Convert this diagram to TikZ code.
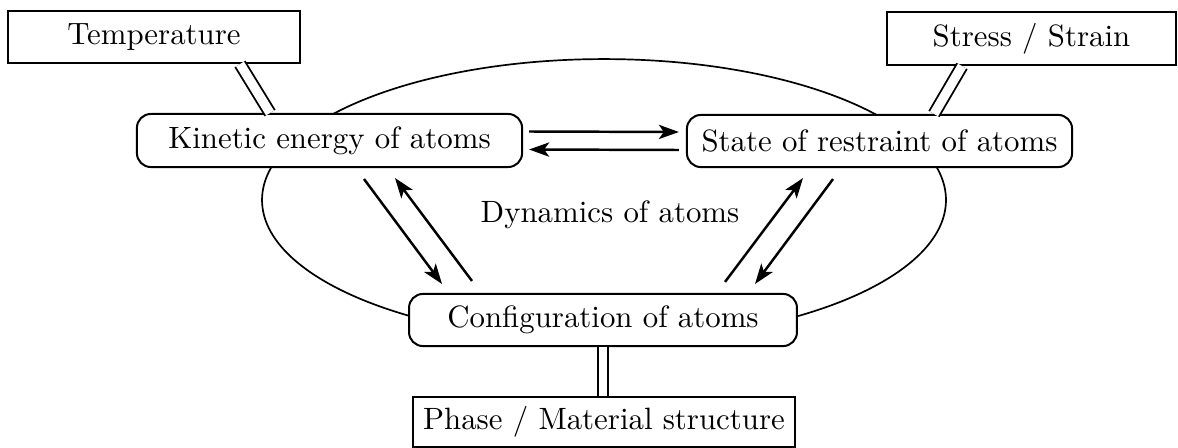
\documentclass[tikz,border=0pt]{standalone}
\usetikzlibrary{calc,arrows.meta}
\begin{document}
\begin{tikzpicture}[x=0.3243pt,y=-0.3243pt,
  box/.style={draw,line width=0.65pt,fill=white,inner sep=0pt},
  rbox/.style={draw,line width=0.65pt,fill=white,inner sep=0pt,rounded corners=4.5pt},
  arr/.style={line width=0.8pt,-{Stealth[length=6.5pt,width=4.6pt,inset=1.6pt]}},
  dbl/.style={double,line width=0.6pt,double distance=3pt}]
\useasboundingbox (0,0) rectangle (1178,448);
\draw[line width=0.55pt] (604,200) ellipse [x radius=110.9pt, y radius=45.7pt];
\node[box,minimum width=94.7pt,minimum height=16.9pt] (T) at (154,37) {Temperature};
\node[box,minimum width=93.7pt,minimum height=17.2pt] (St) at (1031.5,38.5) {Stress / Strain};
\node[box,minimum width=123.9pt,minimum height=16.4pt] (P) at (604,422) {Phase / Material structure};
\node[rbox,minimum width=124.9pt,minimum height=17.2pt] (K) at (329.5,140.5) {Kinetic energy of atoms};
\node[rbox,minimum width=124.9pt,minimum height=16.9pt] (S) at (879.5,141) {State of restraint of atoms};
\node[rbox,minimum width=125.8pt,minimum height=16.9pt] (C) at (603,320) {Configuration of atoms};
\node (D) at (610,215) {Dynamics of atoms};
\draw[arr] ($(K.east)+(6,-9)$) -- ($(S.west)+(-7,-9)$);
\draw[arr] ($(S.west)+(-7,9)$) -- ($(K.east)+(6,9)$);
\draw[arr] ($(K.south)+(34.5,11)$) -- ($(C.north)+(-161,-9)$);
\draw[arr] ($(C.north)+(-131,-12)$) -- ($(K.south)+(65.5,10)$);
\draw[arr] ($(C.north)+(122,-11)$) -- ($(S.south)+(-76.5,10)$);
\draw[arr] ($(S.south)+(-46.5,11)$) -- ($(C.north)+(152,-9)$);
\draw[dbl] ($(T.south)+(86,0)$) -- ($(K.north)+(-59.5,0)$);
\draw[dbl] ($(St.south)+(-69.5,0)$) -- ($(S.north)+(54.5,0)$);
\draw[dbl,double distance=2.6pt] (C.south) -- (C.south|-P.north);
\end{tikzpicture}
\end{document}
